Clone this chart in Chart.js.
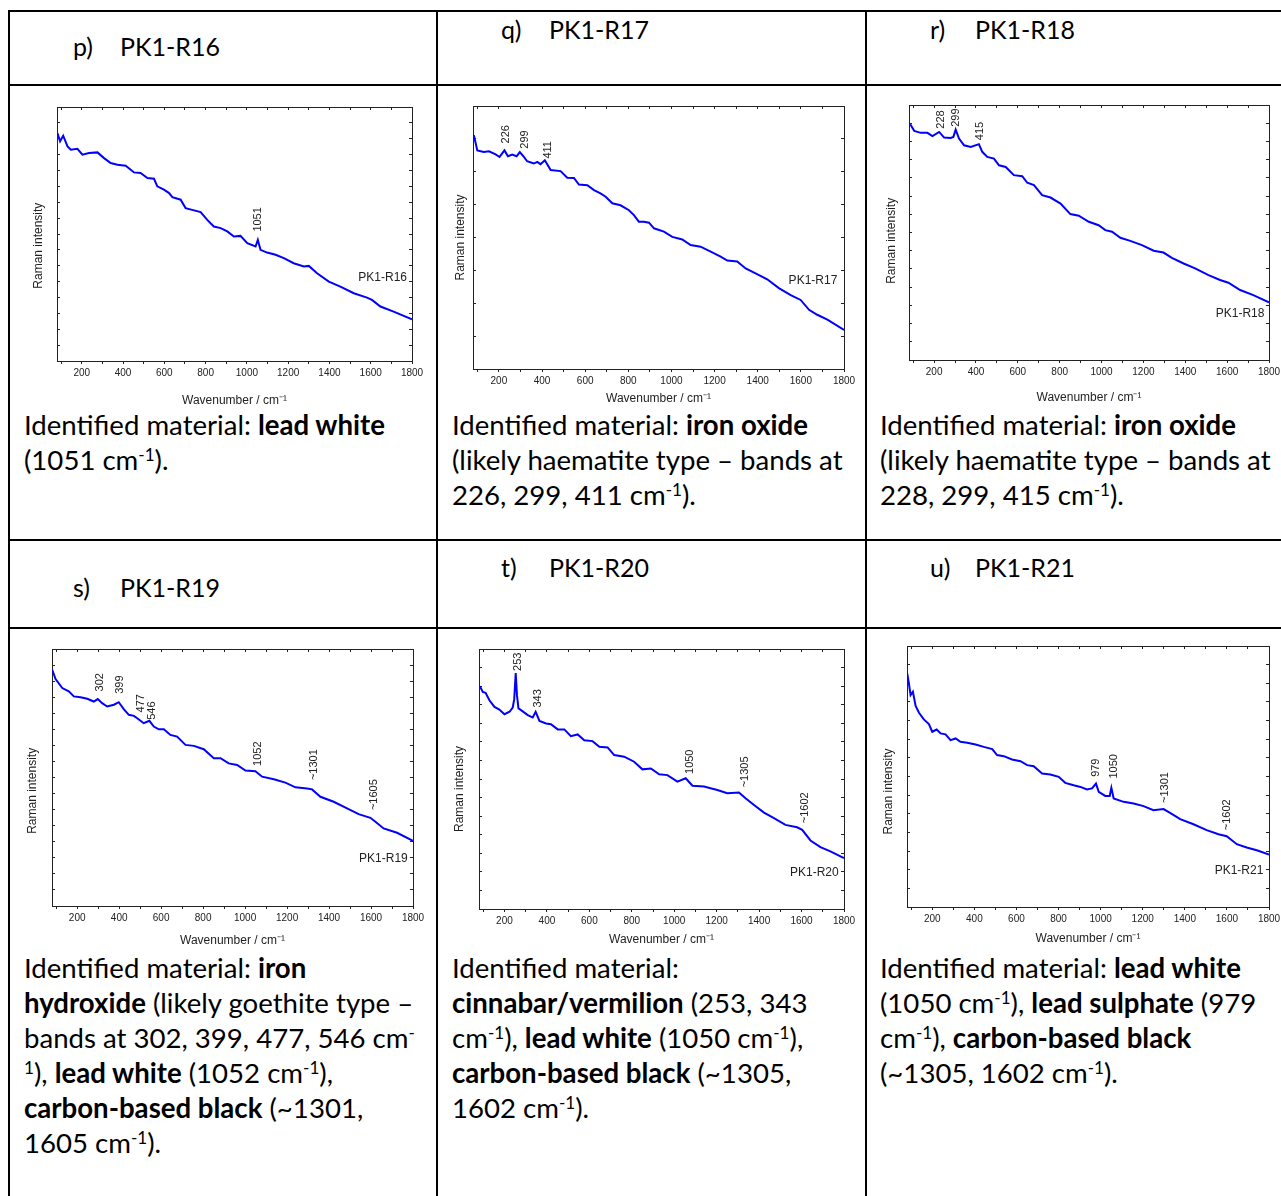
<!DOCTYPE html>
<html>
<head>
<meta charset="utf-8">
<script src="https://cdn.jsdelivr.net/npm/chart.js@4.4.1/dist/chart.umd.min.js"></script>
<style>
  html, body { margin: 0; padding: 0; background: #fff; }
  body { width: 1281px; height: 1196px; position: relative; overflow: hidden; font-family: Lato, "Open Sans", sans-serif; color: #000; }
  .ln { position: absolute; background: #000; }
  .hd, .txt { position: absolute; line-height: 34.9px; white-space: nowrap; }
  .hd { font-size: 25px; }
  .txt { font-size: 27.6px; }
  sup { font-size: 0.62em; vertical-align: 0.5em; line-height: 0; }
  canvas { position: absolute; }
</style>
</head>
<body>

<!-- table rules -->
<div class="ln" style="left:8px;top:10px;width:1273px;height:2px"></div>
<div class="ln" style="left:8px;top:84px;width:1273px;height:2px"></div>
<div class="ln" style="left:8px;top:539px;width:1273px;height:2px"></div>
<div class="ln" style="left:8px;top:627px;width:1273px;height:2px"></div>
<div class="ln" style="left:8px;top:10px;width:2px;height:1186px"></div>
<div class="ln" style="left:436px;top:10px;width:2px;height:1186px"></div>
<div class="ln" style="left:865px;top:10px;width:2px;height:1186px"></div>

<!-- cell headers -->
<div class="hd" style="left:73px;top:29px">p)</div><div class="hd" style="left:120px;top:29px">PK1-R16</div>
<div class="hd" style="left:501px;top:12px">q)</div><div class="hd" style="left:549px;top:12px">PK1-R17</div>
<div class="hd" style="left:930px;top:12px">r)</div><div class="hd" style="left:975px;top:12px">PK1-R18</div>
<div class="hd" style="left:73px;top:570px">s)</div><div class="hd" style="left:120px;top:570px">PK1-R19</div>
<div class="hd" style="left:501px;top:550px">t)</div><div class="hd" style="left:549px;top:550px">PK1-R20</div>
<div class="hd" style="left:930px;top:550px">u)</div><div class="hd" style="left:975px;top:550px">PK1-R21</div>

<canvas id="c16"></canvas>
<canvas id="c17"></canvas>
<canvas id="c18"></canvas>
<canvas id="c19"></canvas>
<canvas id="c20"></canvas>
<canvas id="c21"></canvas>

<!-- identification texts -->
<div class="txt" style="left:24px;top:408px">Identified material: <b>lead white</b><br>(1051 cm<sup>-1</sup>).</div>
<div class="txt" style="left:452px;top:408px">Identified material: <b>iron oxide</b><br>(likely haematite type – bands at<br>226, 299, 411 cm<sup>-1</sup>).</div>
<div class="txt" style="left:880px;top:408px">Identified material: <b>iron oxide</b><br>(likely haematite type – bands at<br>228, 299, 415 cm<sup>-1</sup>).</div>
<div class="txt" style="left:24px;top:951px">Identified material: <b>iron</b><br><b>hydroxide</b> (likely goethite type –<br>bands at 302, 399, 477, 546 cm<sup>-</sup><br><sup>1</sup>), <b>lead white</b> (1052 cm<sup>-1</sup>),<br><b>carbon-based black</b> (~1301,<br>1605 cm<sup>-1</sup>).</div>
<div class="txt" style="left:452px;top:951px">Identified material:<br><b>cinnabar/vermilion</b> (253, 343<br>cm<sup>-1</sup>), <b>lead white</b> (1050 cm<sup>-1</sup>),<br><b>carbon-based black</b> (~1305,<br>1602 cm<sup>-1</sup>).</div>
<div class="txt" style="left:880px;top:951px">Identified material: <b>lead white</b><br>(1050 cm<sup>-1</sup>), <b>lead sulphate</b> (979<br>cm<sup>-1</sup>), <b>carbon-based black</b><br>(~1305, 1602 cm<sup>-1</sup>).</div>

<script>
// spectra (wavenumber / cm-1, intensity in axis tick units)
const r16_wn = [82, 95, 110, 131, 147, 179, 203, 235, 276, 308, 340, 373, 413, 453, 485, 518, 550, 566, 598, 623, 639, 679, 703, 735, 776, 808, 840, 873, 905, 937, 969, 1002, 1042, 1053, 1066, 1098, 1139, 1179, 1227, 1276, 1300, 1340, 1397, 1453, 1518, 1582, 1606, 1647, 1711, 1800];
const r16_int = [14.36, 13.84, 14.19, 13.52, 13.31, 13.37, 13.0, 13.1, 13.14, 12.78, 12.47, 12.36, 12.3, 11.88, 11.84, 11.52, 11.48, 11.0, 10.79, 10.58, 10.32, 10.16, 9.63, 9.52, 9.38, 8.89, 8.47, 8.37, 8.16, 7.84, 7.88, 7.42, 7.21, 7.63, 7.0, 6.83, 6.69, 6.48, 6.16, 5.95, 5.99, 5.53, 5.0, 4.69, 4.27, 3.99, 3.85, 3.43, 3.11, 2.63];

const r17_wn = [84, 100, 130, 154, 185, 203, 226, 242, 262, 282, 297, 316, 331, 362, 378, 393, 413, 440, 486, 517, 548, 571, 610, 641, 671, 695, 726, 764, 803, 826, 849, 872, 896, 919, 965, 1004, 1050, 1089, 1135, 1182, 1228, 1259, 1305, 1344, 1390, 1444, 1498, 1553, 1599, 1638, 1676, 1723, 1800];
const r17_int = [7.11, 6.65, 6.6, 6.62, 6.53, 6.45, 6.65, 6.47, 6.52, 6.47, 6.6, 6.45, 6.32, 6.25, 6.3, 6.23, 6.35, 6.05, 6.02, 5.82, 5.81, 5.61, 5.59, 5.44, 5.34, 5.24, 5.04, 4.98, 4.83, 4.68, 4.48, 4.48, 4.45, 4.28, 4.18, 4.02, 3.94, 3.77, 3.72, 3.57, 3.42, 3.3, 3.27, 3.06, 2.91, 2.73, 2.46, 2.25, 2.1, 1.8, 1.65, 1.5, 1.19];

const r18_wn = [86, 105, 136, 168, 192, 224, 248, 279, 292, 303, 319, 343, 375, 414, 430, 454, 486, 510, 542, 581, 621, 645, 677, 716, 756, 804, 851, 891, 939, 986, 1018, 1050, 1090, 1137, 1193, 1249, 1296, 1336, 1392, 1447, 1511, 1566, 1606, 1662, 1725, 1800];
const r18_int = [12.94, 12.58, 12.47, 12.47, 12.29, 12.52, 12.21, 12.19, 12.25, 12.65, 12.16, 11.79, 11.7, 11.85, 11.43, 11.15, 11.06, 10.69, 10.6, 10.15, 10.09, 9.73, 9.6, 9.05, 8.92, 8.59, 8.01, 7.92, 7.59, 7.4, 7.13, 7.04, 6.71, 6.54, 6.31, 6.0, 5.9, 5.61, 5.3, 5.03, 4.66, 4.39, 4.24, 3.84, 3.56, 3.16];

const r19_wn = [81, 97, 129, 160, 184, 216, 248, 279, 298, 319, 343, 375, 398, 422, 446, 470, 486, 517, 544, 565, 589, 613, 644, 676, 716, 756, 803, 851, 883, 922, 962, 1002, 1049, 1081, 1137, 1192, 1240, 1295, 1319, 1359, 1422, 1486, 1541, 1597, 1621, 1660, 1724, 1800];
const r19_int = [14.71, 14.13, 13.57, 13.36, 13.05, 13.0, 12.9, 12.73, 12.88, 12.63, 12.42, 12.53, 12.69, 12.26, 11.9, 11.84, 11.69, 11.38, 11.53, 11.17, 11.0, 11.0, 10.65, 10.55, 10.03, 9.97, 9.76, 9.2, 9.2, 8.88, 8.78, 8.43, 8.39, 8.05, 7.89, 7.68, 7.39, 7.32, 7.26, 6.8, 6.49, 6.08, 5.72, 5.49, 5.24, 4.83, 4.56, 4.06];

const r20_wn = [84, 98, 111, 129, 153, 176, 200, 224, 239, 246, 253, 259, 266, 278, 310, 333, 347, 365, 396, 419, 451, 482, 513, 545, 576, 615, 647, 686, 717, 764, 811, 850, 890, 929, 968, 1015, 1054, 1086, 1140, 1203, 1250, 1305, 1336, 1376, 1423, 1470, 1524, 1579, 1603, 1642, 1689, 1736, 1800];
const r20_int = [11.99, 11.69, 11.64, 11.24, 10.88, 10.74, 10.49, 10.62, 10.85, 11.3, 12.71, 11.5, 10.8, 10.71, 10.44, 10.31, 10.62, 10.13, 9.99, 9.95, 9.67, 9.67, 9.31, 9.4, 9.09, 9.04, 8.74, 8.7, 8.29, 8.2, 7.93, 7.52, 7.57, 7.25, 7.21, 6.86, 7.04, 6.64, 6.59, 6.41, 6.23, 6.27, 5.96, 5.6, 5.19, 4.89, 4.53, 4.4, 4.26, 3.69, 3.33, 3.1, 2.74];

const r21_wn = [81, 89, 97, 108, 121, 137, 160, 184, 200, 221, 240, 263, 287, 311, 334, 366, 406, 445, 485, 508, 540, 579, 619, 651, 682, 722, 761, 801, 832, 872, 904, 935, 959, 978, 991, 1022, 1043, 1051, 1062, 1109, 1157, 1204, 1251, 1299, 1330, 1378, 1441, 1504, 1560, 1599, 1647, 1694, 1742, 1800];
const r21_int = [12.53, 11.99, 11.37, 11.55, 10.78, 10.42, 10.06, 9.81, 9.4, 9.52, 9.31, 9.26, 8.95, 9.04, 8.86, 8.81, 8.72, 8.59, 8.47, 8.15, 8.09, 7.91, 7.82, 7.61, 7.55, 7.16, 7.11, 6.98, 6.66, 6.53, 6.44, 6.3, 6.36, 6.62, 6.18, 5.96, 5.96, 6.39, 5.82, 5.64, 5.55, 5.41, 5.19, 5.25, 5.05, 4.71, 4.44, 4.12, 3.9, 3.8, 3.37, 3.19, 3.04, 2.81];

// band labels: [text, wavenumber, intensity where the label starts]
const r16_peaks = [['1051', 1055, 8.15]];
const r17_peaks = [['226', 231, 6.86], ['299', 320, 6.7], ['411', 427, 6.4]];
const r18_peaks = [['228', 232, 12.7], ['299', 303, 12.8], ['415', 419, 12.07]];
const r19_peaks = [['302', 308, 13.36], ['399', 406, 13.21], ['477', 502, 12.05], ['546', 557, 11.59], ['1052', 1060, 8.72], ['~1301', 1327, 7.84], ['~1605', 1613, 5.97]];
const r20_peaks = [['253', 263, 12.82], ['343', 357, 10.85], ['1050', 1075, 7.27], ['~1305', 1332, 6.55], ['~1602', 1614, 4.62]];
const r21_peaks = [['979', 979, 6.98], ['1050', 1065, 6.89], ['~1301', 1307, 5.58], ['~1602', 1599, 4.12]];

// sample names: [text, wavenumber of right end, intensity]
const r16_name = ['PK1-R16', 1776, 5.23];
const r17_name = ['PK1-R17', 1769, 2.69];
const r18_name = ['PK1-R18', 1778, 2.56];
const r19_name = ['PK1-R19', 1775, 2.95];
const r20_name = ['PK1-R20', 1775, 1.97];
const r21_name = ['PK1-R21', 1773, 1.97];

const x_min = 80, x_max = 1800;

Chart.defaults.font.family = '"Liberation Sans", Arial, sans-serif';
Chart.defaults.color = '#222';

// writes band numbers (rotated) and the sample name inside the plot
const spectrumLabels = {
    id: 'spectrumLabels',
    afterDatasetsDraw(chart, args, opts) {
        const ctx = chart.ctx;
        const xs = chart.scales.x, ys = chart.scales.y;
        ctx.save();
        ctx.fillStyle = '#222';
        ctx.font = '11px "Liberation Sans", Arial, sans-serif';
        ctx.textAlign = 'left';
        ctx.textBaseline = 'middle';
        opts.peaks.forEach(function(p) {
            ctx.save();
            ctx.translate(xs.getPixelForValue(p[1]), ys.getPixelForValue(p[2]));
            ctx.rotate(-Math.PI / 2);
            ctx.fillText(p[0], 0, 0);
            ctx.restore();
        });
        ctx.font = '12px "Liberation Sans", Arial, sans-serif';
        ctx.textAlign = 'right';
        ctx.fillText(opts.name[0], xs.getPixelForValue(opts.name[1]), ys.getPixelForValue(opts.name[2]));
        ctx.restore();
    }
};

// box = plot area in page pixels, yt / xt = distance of the axis titles from the box,
// drop = how far the y title sits below the middle of the axis
const drawSpectrum = (id, box, wn, inten, y_top, peaks, name) => {
    const yW = box.yt + 7, xH = box.xt + 7, padT = 6, padR = 16;
    const canvas = document.getElementById(id);
    canvas.width = box.r - box.l + yW + padR;
    canvas.height = box.b - box.t + padT + xH;
    canvas.style.left = (box.l - yW) + 'px';
    canvas.style.top = (box.t - padT) + 'px';

    // trailing spaces push the rotated title down a little
    const yTitle = 'Raman intensity' + '\u00a0'.repeat(Math.round(box.drop * 2 / 3.34));

    const axisColor = '#222';
    new Chart(canvas, {
        type: 'line',
        data: {
            datasets: [{
                data: wn.map((w, i) => ({ x: w, y: inten[i] })),
                borderColor: '#0000ff',
                borderWidth: 2,
                pointRadius: 0,
                tension: 0,
                fill: false
            }]
        },
        options: {
            responsive: false,
            animation: false,
            layout: { padding: { top: padT, right: padR, left: 0, bottom: 0 } },
            plugins: {
                legend: { display: false },
                tooltip: { enabled: false },
                spectrumLabels: { peaks: peaks, name: name }
            },
            scales: {
                x: {
                    type: 'linear', position: 'bottom', min: x_min, max: x_max,
                    grid: { drawOnChartArea: false, tickLength: 3, color: axisColor },
                    border: { color: axisColor, width: 1 },
                    ticks: {
                        stepSize: 100, includeBounds: false, autoSkip: false, maxRotation: 0, padding: 3,
                        font: { size: 10 }, color: '#222',
                        callback: (v) => (v % 200 === 0 ? String(v) : '')
                    },
                    title: { display: true, text: 'Wavenumber / cm⁻¹', font: { size: 12 }, color: '#222', padding: 0 },
                    afterFit: (s) => { s.height = xH; }
                },
                x2: {
                    type: 'linear', position: 'top', min: x_min, max: x_max,
                    grid: { drawOnChartArea: false, tickLength: -3, color: axisColor },
                    border: { color: axisColor, width: 1 },
                    ticks: { display: false, stepSize: 100, includeBounds: false, autoSkip: false },
                    afterFit: (s) => { s.height = 0; }
                },
                y: {
                    type: 'linear', position: 'left', min: 0, max: y_top,
                    grid: { drawOnChartArea: false, tickLength: -3, color: axisColor },
                    border: { color: axisColor, width: 1 },
                    ticks: { display: false, stepSize: 1 },
                    title: { display: true, text: yTitle, font: { size: 12 }, color: '#222', padding: 0 },
                    afterFit: (s) => { s.width = yW; }
                },
                y2: {
                    type: 'linear', position: 'right', min: 0, max: y_top,
                    grid: { drawOnChartArea: false, tickLength: -3, color: axisColor },
                    border: { color: axisColor, width: 1 },
                    ticks: { display: false, stepSize: 1 },
                    afterFit: (s) => { s.width = 0; }
                }
            }
        },
        plugins: [spectrumLabels]
    });
};

drawSpectrum('c16', { l: 57, t: 107, r: 412, b: 361, yt: 19, xt: 40, drop: 11 }, r16_wn, r16_int, 16, r16_peaks, r16_name);
drawSpectrum('c17', { l: 473, t: 106, r: 844, b: 369, yt: 13, xt: 30, drop: 0 }, r17_wn, r17_int, 8, r17_peaks, r17_name);
drawSpectrum('c18', { l: 909, t: 105, r: 1269, b: 360, yt: 18, xt: 38, drop: 9 }, r18_wn, r18_int, 14, r18_peaks, r18_name);
drawSpectrum('c19', { l: 52, t: 649, r: 413, b: 906, yt: 20, xt: 35, drop: 14 }, r19_wn, r19_int, 16, r19_peaks, r19_name);
drawSpectrum('c20', { l: 479, t: 649, r: 844, b: 909, yt: 20, xt: 31, drop: 10 }, r20_wn, r20_int, 14, r20_peaks, r20_name);
drawSpectrum('c21', { l: 907, t: 646, r: 1269, b: 907, yt: 19, xt: 32, drop: 15 }, r21_wn, r21_int, 14, r21_peaks, r21_name);
</script>
</body>
</html>
